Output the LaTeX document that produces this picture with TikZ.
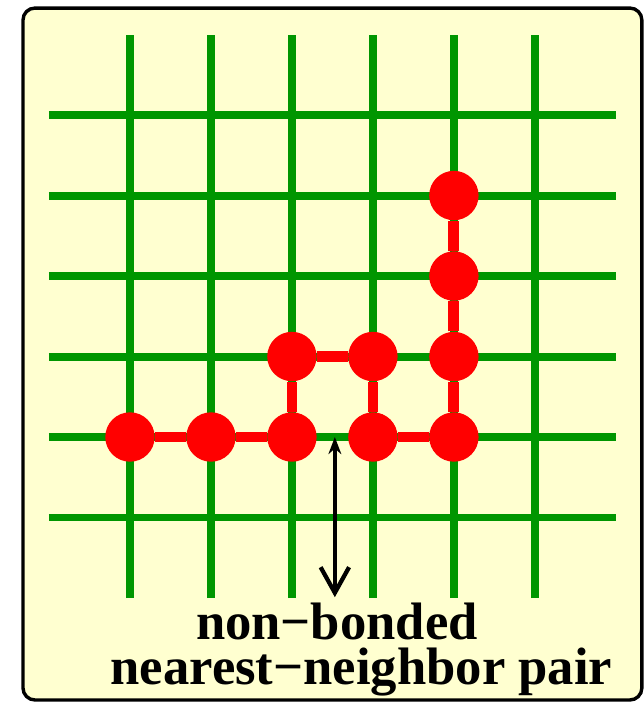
\documentclass[tikz,border=0pt]{standalone}
\usepackage{fontspec}
\setmainfont{Liberation Serif}
\usetikzlibrary{arrows.meta}
\definecolor{latticeGreen}{RGB}{0,150,0}
\definecolor{chainRed}{RGB}{255,0,0}
\definecolor{panelCream}{RGB}{255,255,208}

\begin{document}
\begin{tikzpicture}[x=1cm, y=0.994cm,
  gridline/.style={latticeGreen, line width=2.8pt},
  monomer/.style={circle, fill=chainRed, inner sep=0pt, minimum size=0.61cm},
  bond/.style={chainRed, line width=3.8pt},
  pairarr/.style={{Stealth[length=6pt,width=4.5pt]}-{Straight Barb[length=9pt,width=10pt]},
                  line width=1.5pt},
  caption/.style={font=\fontsize{18.5}{20}\selectfont\bfseries, anchor=base, inner sep=0pt},
]

\useasboundingbox (-1.605,-3.292) rectangle (6.346,5.429);

% ─── panel ─────────────────────────────────────────────────────
\draw[fill=panelCream, line width=1.2pt, rounded corners=4.2pt]
     (-1.321,-3.267) rectangle (6.321,5.329);

% ─── square lattice ────────────────────────────────────────────
\foreach \col in {0,...,5}{
  \draw[gridline] (\col,-2) -- (\col,5);
}
\foreach \row in {-1,...,4}{
  \draw[gridline] (-1,\row) -- (6,\row);
}

% ─── chain monomers ────────────────────────────────────────────
\foreach \i/\cx/\cy in {1/0/0, 2/1/0, 3/2/0, 4/2/1, 5/3/1,
                        6/3/0, 7/4/0, 8/4/1, 9/4/2, 10/4/3}{
  \node[monomer] (m\i) at (\cx,\cy) {};
}

% bonds along the chain
\foreach \fr/\to in {m1/m2, m2/m3, m3/m4, m4/m5, m5/m6,
                     m6/m7, m7/m8, m8/m9, m9/m10}{
  \draw[bond] (\fr) -- (\to);
}

% ─── non-bonded pair marker ────────────────────────────────────
\coordinate (gap) at (2.53,0);
\coordinate (arrowend) at (2.53,-1.99);
\draw[pairarr] (gap) -- (arrowend);

\node[caption] (lbl1) at (2.556,-2.52) {non−bonded};
\node[caption] (lbl2) at (2.858,-3.08) {nearest−neighbor pair};

\end{tikzpicture}
\end{document}
